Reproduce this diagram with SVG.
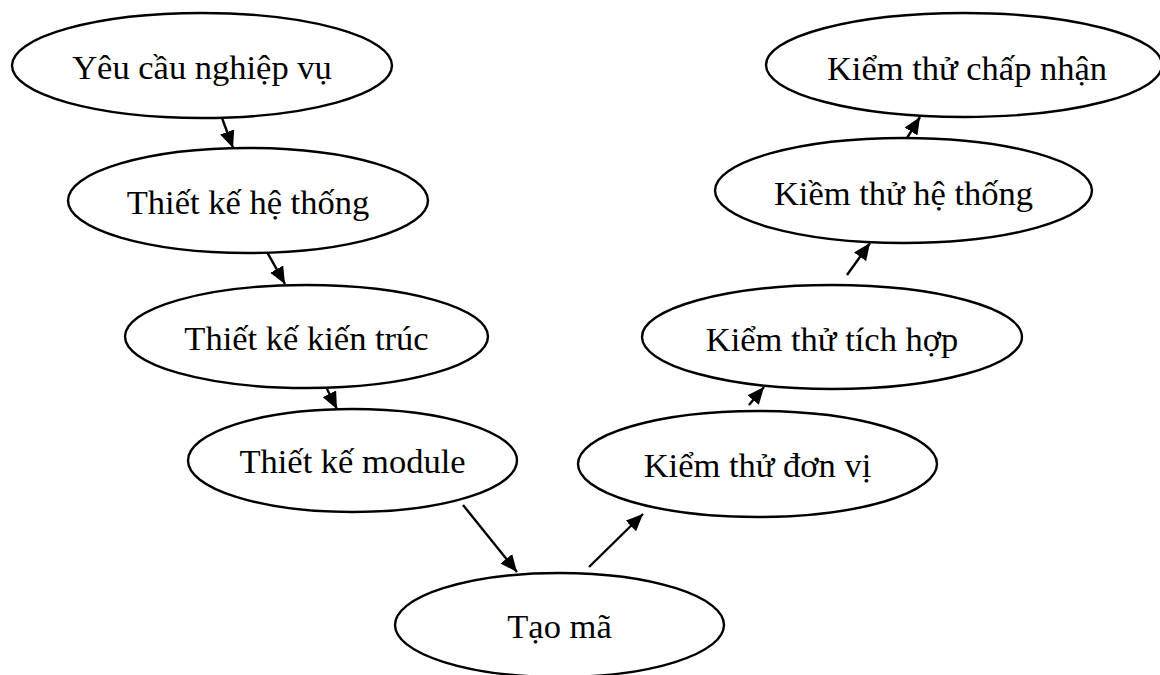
<svg xmlns="http://www.w3.org/2000/svg" width="1160" height="675" viewBox="0 0 1160 675">
  <style>
    .node ellipse { fill: #ffffff; stroke: #000000; stroke-width: 2.4; }
    .node text { font-family: "Liberation Serif", "Times New Roman", serif; font-size: 34.5px; fill: #000000; text-anchor: middle; }
    .edge { stroke: #000000; stroke-width: 2.4; fill: none; marker-end: url(#arrow); }
  </style>
  <defs>
    <marker id="arrow" markerUnits="userSpaceOnUse" markerWidth="19" markerHeight="16" refX="17" refY="7.5" orient="auto">
      <path d="M0,0 L17,7.5 L0,15 Z" fill="#000000"/>
    </marker>
  </defs>
  <rect width="1160" height="675" fill="#ffffff"/>

  <!-- connectors -->
  <g id="connectors">
    <line class="edge" x1="222" y1="118" x2="233" y2="148"/>
    <line class="edge" x1="267" y1="252" x2="285" y2="284"/>
    <line class="edge" x1="327" y1="389" x2="337" y2="409"/>
    <line class="edge" x1="463" y1="505" x2="517" y2="572"/>
    <line class="edge" x1="589" y1="567" x2="643" y2="514"/>
    <line class="edge" x1="749" y1="405" x2="764" y2="387"/>
    <line class="edge" x1="847" y1="275" x2="870" y2="243"/>
    <line class="edge" x1="907" y1="138" x2="920" y2="117"/>
  </g>

  <!-- left branch: requirements and design -->
  <g id="yeu-cau-nghiep-vu" class="node">
    <ellipse cx="202" cy="65.5" rx="190" ry="52.5"/>
    <text x="202" y="79">Yêu cầu nghiệp vụ</text>
  </g>
  <g id="thiet-ke-he-thong" class="node">
    <ellipse cx="248" cy="200.5" rx="180" ry="52.5"/>
    <text x="248" y="214">Thiết kế hệ thống</text>
  </g>
  <g id="thiet-ke-kien-truc" class="node">
    <ellipse cx="306.5" cy="336.5" rx="181.5" ry="51.5"/>
    <text x="306.5" y="350">Thiết kế kiến trúc</text>
  </g>
  <g id="thiet-ke-module" class="node">
    <ellipse cx="352.5" cy="460.5" rx="164.5" ry="51.5"/>
    <text x="352.5" y="473">Thiết kế module</text>
  </g>

  <!-- bottom: coding -->
  <g id="tao-ma" class="node">
    <ellipse cx="559.5" cy="625" rx="164.5" ry="52"/>
    <text x="559.5" y="638">Tạo mã</text>
  </g>

  <!-- right branch: testing -->
  <g id="kiem-thu-don-vi" class="node">
    <ellipse cx="757.5" cy="464" rx="179.5" ry="53"/>
    <text x="757.5" y="477">Kiểm thử đơn vị</text>
  </g>
  <g id="kiem-thu-tich-hop" class="node">
    <ellipse cx="832" cy="337" rx="190" ry="52"/>
    <text x="832" y="351">Kiểm thử tích hợp</text>
  </g>
  <g id="kiem-thu-he-thong" class="node">
    <ellipse cx="903.5" cy="190.5" rx="188.5" ry="52.5"/>
    <text x="903.5" y="205">Kiềm thử hệ thống</text>
  </g>
  <g id="kiem-thu-chap-nhan" class="node">
    <ellipse cx="964" cy="65" rx="198" ry="52"/>
    <text x="967" y="80">Kiểm thử chấp nhận</text>
  </g>
</svg>
